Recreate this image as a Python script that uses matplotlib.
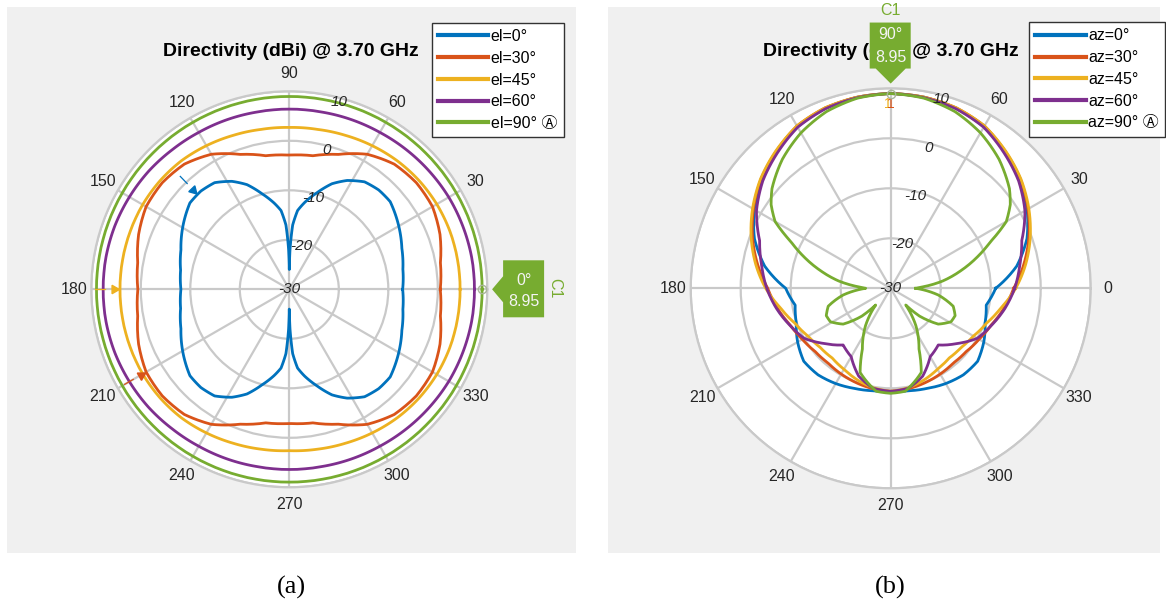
"""Azimuth / elevation directivity cuts at 3.70 GHz, two polar panels."""
import numpy as np
import matplotlib
matplotlib.use("Agg")
import matplotlib.pyplot as plt
from matplotlib.patches import Rectangle, Polygon
from matplotlib.lines import Line2D
from matplotlib.transforms import IdentityTransform

W, H, DPI = 1166, 608, 100
plt.rcParams["font.family"] = ["Liberation Sans", "DejaVu Sans", "Noto Sans CJK JP"]

BLUE, ORANGE, YELLOW, PURPLE, GREEN = "#0072BD", "#D95319", "#EDB120", "#7E2F8E", "#77AC30"
COLORS = [BLUE, ORANGE, YELLOW, PURPLE, GREEN]
GRID = "#c9c9c9"
PANEL_BG = "#f0f0f0"

TITLE = "Directivity (dBi) @ 3.70 GHz"
ANGLE_TICKS = list(range(0, 360, 30))
R_TICKS = [-30, -20, -10, 0, 10]
R_MIN, R_MAX = -30, 10
PEAK_DBI = 8.95

# ---------- (a) azimuth cuts at fixed elevation ----------
LABELS_A = ["el=0°", "el=30°", "el=45°", "el=60°", "el=90° Ⓐ"]
ANG_A = list(range(0, 360, 10))
EL0_ANG = [0, 10, 20, 32, 41, 48, 55, 62, 68, 74, 80, 84, 87, 89, 90, 91, 93, 96, 100, 106,
           112, 118, 125, 132, 139, 148, 160, 170, 180, 190, 200, 212, 221, 228, 235, 242, 248, 254, 260, 264,
           267, 269, 270, 271, 273, 276, 280, 286, 292, 298, 305, 312, 319, 328, 340, 350, 360]
EL0 = [-7.1, -6.7, -5.8, -4.2, -3.0, -3.0, -3.5, -5.1, -7.0, -9.7, -12.2, -14.0, -17.0, -22.0, -26.0, -22.0, -17.0, -14.0, -12.3, -9.9,
       -7.2, -5.3, -3.7, -3.3, -3.4, -4.8, -6.7, -7.7, -8.1, -7.7, -6.7, -4.8, -3.4, -3.3, -3.7, -5.3, -7.2, -9.9, -12.3, -14.0,
       -17.0, -22.0, -26.0, -22.0, -17.0, -14.0, -12.2, -9.7, -7.0, -5.1, -3.5, -3.0, -3.0, -4.2, -5.8, -6.7, -7.1]
EL30 = [0.5, 1.0, 2.4, 3.4, 3.5, 3.0, 1.5, -1.0, -2.6, -2.9, -2.6, -1.0, 1.5, 3.0, 3.5, 3.4, 2.4, 1.1,
        0.6, 1.1, 2.4, 3.4, 3.5, 3.0, 1.5, -1.0, -2.6, -2.9, -2.6, -1.0, 1.5, 3.0, 3.5, 3.4, 2.4, 1.0]
EL45 = [4.5, 4.5, 4.5, 4.4, 4.2, 3.9, 3.5, 3.1, 2.8, 2.7, 2.8, 3.1, 3.5, 3.9, 4.1, 4.2, 4.2, 4.2,
        4.2, 4.2, 4.2, 4.2, 4.1, 3.9, 3.5, 3.1, 2.8, 2.6, 2.8, 3.1, 3.5, 3.9, 4.2, 4.4, 4.5, 4.5]
EL60 = [7.4, 7.4, 7.3, 7.2, 7.0, 6.8, 6.6, 6.5, 6.4, 6.4, 6.4, 6.5, 6.6, 6.8, 7.1, 7.3, 7.5, 7.6,
        7.6, 7.6, 7.5, 7.3, 7.1, 6.8, 6.6, 6.5, 6.4, 6.4, 6.4, 6.5, 6.6, 6.8, 7.0, 7.2, 7.3, 7.4]
EL90 = [PEAK_DBI] * len(ANG_A)
# peak markers: (angle, dBi)
PEAKS_A = [(134, -3.3), (210, 3.4), (180, 4.2)]

# ---------- (b) elevation cuts at fixed azimuth ----------
LABELS_B = ["az=0°", "az=30°", "az=45°", "az=60°", "az=90° Ⓐ"]
ANG_B = list(range(0, 360, 10))
AZ0 = [-9.0, -4.4, -1.0, 1.5, 3.7, 5.5, 7.3, 8.3, 8.8, 8.95, 8.8, 8.3, 7.3, 5.5, 3.7, 1.5, -1.0, -4.4,
       -9.0, -10.6, -9.9, -8.5, -7.3, -7.4, -8.0, -8.7, -9.2, -9.4, -9.2, -8.7, -8.0, -7.4, -7.3, -8.5, -9.9, -10.6]
AZ30 = [-5.4, -3.0, -0.6, 1.7, 3.9, 5.7, 7.5, 8.4, 8.8, 8.95, 8.8, 8.4, 7.5, 5.7, 3.9, 1.7, -0.6, -3.0,
        -5.4, -7.0, -8.6, -9.6, -10.3, -10.5, -10.2, -9.9, -9.6, -9.4, -9.6, -9.9, -10.2, -10.5, -10.3, -9.6, -8.6, -7.0]
AZ45 = [-5.0, -2.6, -0.3, 1.9, 4.0, 5.8, 7.5, 8.4, 8.8, 8.95, 8.8, 8.4, 7.5, 5.8, 4.0, 1.9, -0.3, -2.6,
        -5.0, -7.6, -9.6, -10.9, -11.6, -11.8, -11.3, -10.5, -9.8, -9.4, -9.8, -10.5, -11.3, -11.8, -11.6, -10.9, -9.6, -7.6]
AZ60 = [-5.2, -3.8, -2.1, 1.0, 3.4, 5.3, 7.2, 8.2, 8.7, 8.95, 8.7, 8.2, 7.2, 5.3, 3.4, 1.0, -2.1, -3.8,
        -5.2, -6.8, -8.5, -10.0, -12.8, -15.2, -14.2, -11.3, -9.7, -9.4, -9.7, -11.3, -14.2, -15.2, -12.8, -10.0, -8.5, -6.8]
AZ90_ANG = [0, 2, 8, 14, 20, 25, 30, 35, 40, 50, 60, 70, 80, 90, 100, 110, 120, 130, 140, 145,
            150, 155, 160, 166, 172, 178, 180, 188, 196, 203, 209, 217, 224, 228, 236, 245, 250, 262, 270, 278,
            290, 295, 304, 312, 316, 323, 331, 337, 344, 352, 360]
AZ90 = [-25, -24, -19.5, -15.6, -11.5, -8.0, -3.3, -0.8, 1.0, 3.7, 5.9, 7.6, 8.6, 8.95, 8.6, 7.6, 5.9, 3.7, 1.0, -0.8,
        -3.3, -8.0, -11.5, -15.6, -19.5, -24, -25, -20.4, -17, -16, -16.2, -18.1, -22, -25.5, -21, -16.6, -12.1, -9.2, -9.0, -9.2,
        -12.1, -16.6, -21, -25.5, -22, -18.1, -16.2, -16, -17, -20.4, -25]


def closed(ang, vals):
    ang, vals = list(ang), list(vals)
    if ang[-1] != 360:
        ang, vals = ang + [360], vals + [vals[0]]
    return np.deg2rad(ang), np.array(vals)


fig = plt.figure(figsize=(W / DPI, H / DPI), dpi=DPI)
fig.patch.set_facecolor("white")


def fx(x):
    return x / W


def fy(y):
    return 1 - y / H


def panel_bg(x0, x1, y0, y1):
    fig.add_artist(Rectangle((fx(x0), fy(y1)), (x1 - x0) / W, (y1 - y0) / H,
                             transform=fig.transFigure, fc=PANEL_BG, ec="none", zorder=-2))


def polar_panel(cx, cy, rad):
    ax = fig.add_axes([fx(cx - rad), fy(cy + rad), 2 * rad / W, 2 * rad / H], projection="polar")
    ax.set_facecolor("white")
    ax.set_rlim(R_MIN, R_MAX)
    ax.set_thetagrids(ANGLE_TICKS)
    ax.set_rgrids(R_TICKS[1:])
    ax.set_xticklabels([]); ax.set_yticklabels([])
    ax.grid(True, color=GRID, lw=1.6)
    ax.spines["polar"].set_edgecolor(GRID); ax.spines["polar"].set_linewidth(1.6)
    for a in ANGLE_TICKS:
        ax.text(np.deg2rad(a), 13.5, str(a), ha="center", va="center", fontsize=11.5,
                color="#262626", clip_on=False)
    for v in R_TICKS:
        rr = v if v == R_MIN else v - 0.9
        ax.text(np.deg2rad(75), rr, str(v), ha="center", va="center", fontsize=11,
                style="italic", color="#262626", clip_on=False, zorder=4)
    return ax


def draw_curves(ax, series):
    for (ang, vals), c in zip(series, COLORS):
        t, r = closed(ang, vals)
        ln, = ax.plot(t, r, color=c, lw=2.0, solid_joinstyle="round", zorder=3)
        # follow the polar grid between samples instead of straight chords
        ln.get_path()._interpolation_steps = 12


def legend(labels, x0, y0):
    handles = [Line2D([], [], color=c, lw=3) for c in COLORS]
    fig.legend(handles, labels, loc="upper left", bbox_to_anchor=(fx(x0), fy(y0)),
               bbox_transform=fig.transFigure, frameon=True, fancybox=False, framealpha=1,
               edgecolor="#333333", fontsize=11.5, handlelength=3.15, handletextpad=0.15,
               borderpad=0.4, labelspacing=0.42, borderaxespad=0)


def datatip(ax, theta, value, where):
    ax.plot(np.deg2rad(theta), value, "o", ms=6, mfc="none", mec="#a9b59a", mew=1, zorder=6, clip_on=False)
    px, py = ax.transData.transform((np.deg2rad(theta), value))
    kw = dict(transform=IdentityTransform(), zorder=8)
    if where == "right":
        box = [(px + 10, py), (px + 21, py + 13), (px + 21, py + 29), (px + 62, py + 29),
               (px + 62, py - 28), (px + 21, py - 28), (px + 21, py - 13)]
        fig.add_artist(Polygon(box, closed=True, fc=GREEN, ec="none", **kw))
        fig.text(px + 41.5, py + 9, f"{theta}°", color="#f4f4f4", fontsize=11.5, ha="center", va="center", **kw)
        fig.text(px + 41.5, py - 12, f"{value:.2f}", color="#f4f4f4", fontsize=11.5, ha="center", va="center", **kw)
        fig.text(px + 73, py + 1, "C1", color=GREEN, fontsize=11.5, rotation=-90, ha="center", va="center", **kw)
    else:
        box = [(px, py + 10), (px + 15, py + 25), (px + 20, py + 25), (px + 20, py + 71),
               (px - 21, py + 71), (px - 21, py + 25), (px - 15, py + 25)]
        fig.add_artist(Polygon(box, closed=True, fc=GREEN, ec="none", **kw))
        fig.text(px, py + 59, f"{theta}°", color="#f4f4f4", fontsize=11.5, ha="center", va="center", **kw)
        fig.text(px, py + 36, f"{value:.2f}", color="#f4f4f4", fontsize=11.5, ha="center", va="center", **kw)
        fig.text(px, py + 83, "C1", color=GREEN, fontsize=11.5, ha="center", va="center", **kw)


# ---------- panel (a) ----------
panel_bg(7, 576, 7, 553)
axa = polar_panel(289.3, 289.3, 198)
draw_curves(axa, [(EL0_ANG, EL0), (ANG_A, EL30), (ANG_A, EL45), (ANG_A, EL60), (ANG_A, EL90)])
for (ang, val), c in zip(PEAKS_A, COLORS[:3]):
    th = np.deg2rad(ang)
    axa.plot(th, val + 1.3, marker=(3, 0, ang + 90), ms=7, color=c, zorder=5, clip_on=False)
    axa.plot([th, th], [val + 3.0, val + 5.0], color=c, lw=0.9, zorder=5)
fig.text(fx(291), fy(52), TITLE, fontsize=14, weight="bold", ha="center", va="center")
legend(LABELS_A, 431.7, 22.7)
datatip(axa, 0, PEAK_DBI, "right")
fig.text(fx(291), fy(587), "(a)", family="Liberation Serif", fontsize=19, ha="center", va="center")

# ---------- panel (b) ----------
panel_bg(608, 1160, 7, 553)
axb = polar_panel(890.7, 288.3, 200)
draw_curves(axb, [(ANG_B, AZ0), (ANG_B, AZ30), (ANG_B, AZ45), (ANG_B, AZ60), (AZ90_ANG, AZ90)])
axb.text(np.deg2rad(91), 6.9, "1", color=YELLOW, fontsize=10, ha="center", va="center", zorder=5)
axb.text(np.deg2rad(90), 6.9, "1", color=ORANGE, fontsize=10, ha="center", va="center", zorder=5)
fig.text(fx(890.6), fy(52), TITLE, fontsize=14, weight="bold", ha="center", va="center")
legend(LABELS_B, 1029, 22)
datatip(axb, 90, PEAK_DBI, "top")
fig.text(fx(890.6), fy(587), "(b)", family="Liberation Serif", fontsize=19, ha="center", va="center")

fig.savefig("out.png", dpi=DPI)
